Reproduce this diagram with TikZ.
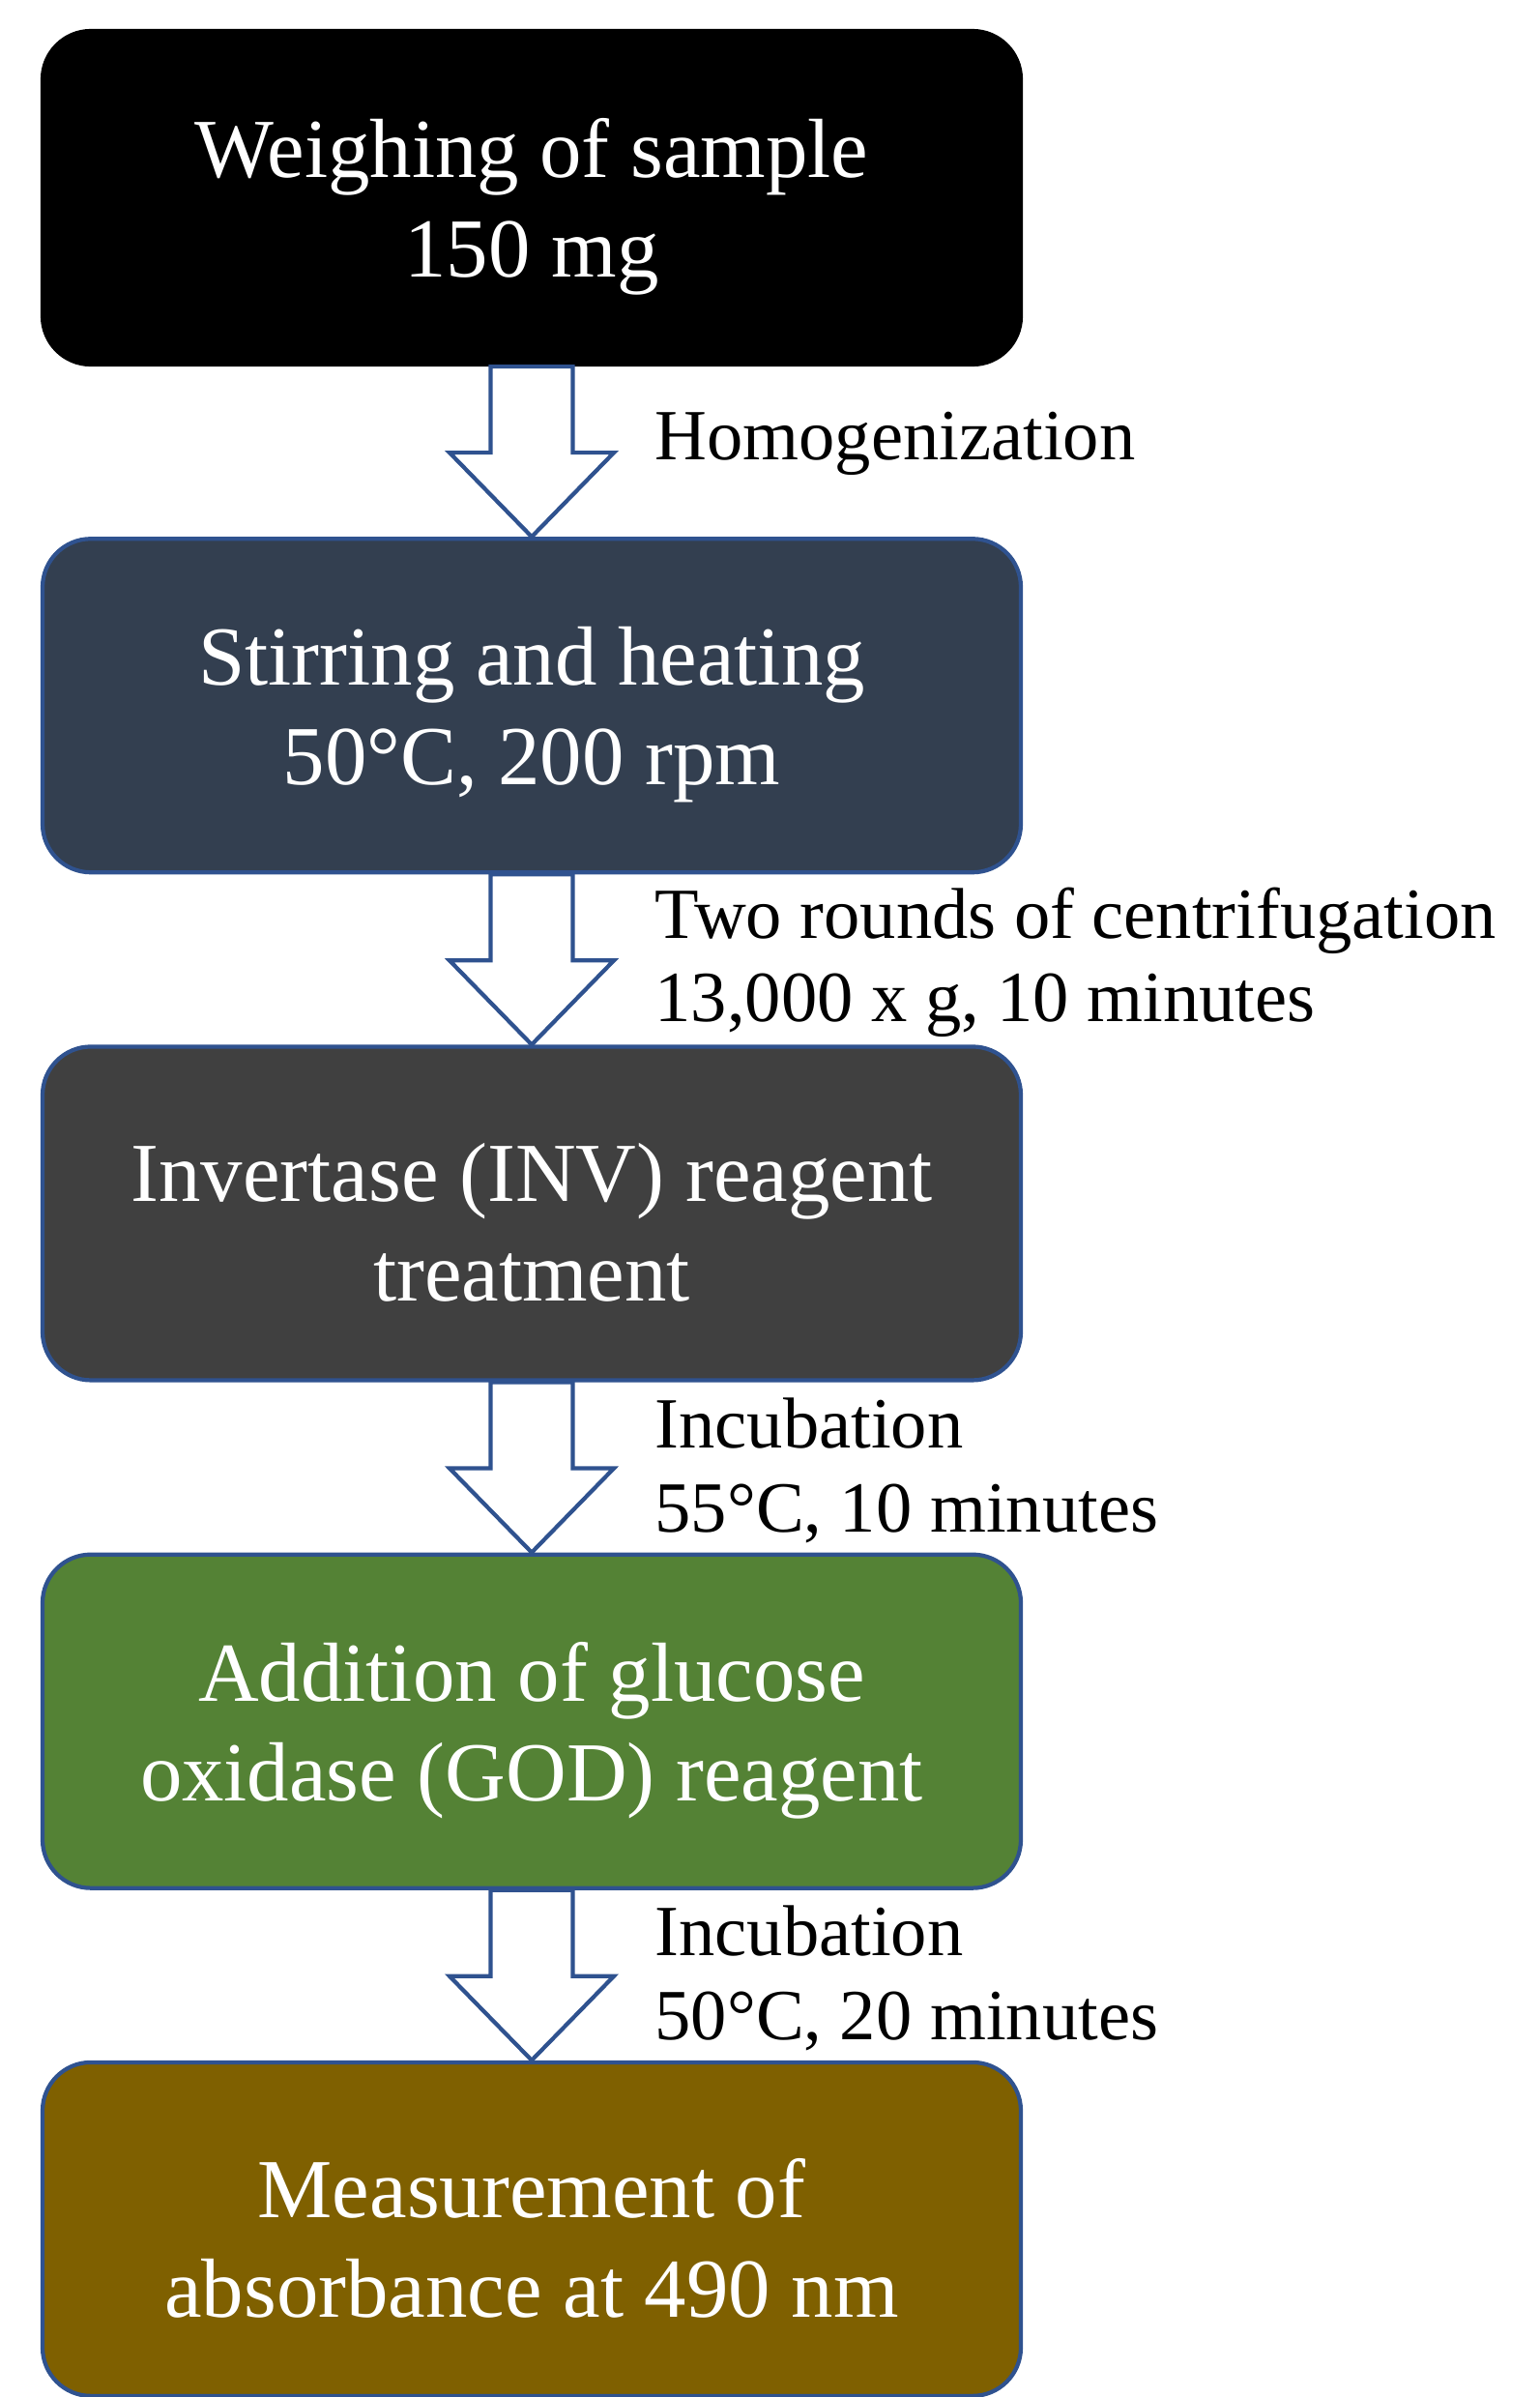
\documentclass[tikz,border=0pt]{standalone}
\usepackage{fontspec}
\setmainfont{Liberation Serif}
\usetikzlibrary{positioning,calc}

\definecolor{boxline}{HTML}{2F528F}
\definecolor{slate}{HTML}{333F50}
\definecolor{darkgrey}{HTML}{404040}
\definecolor{leaf}{HTML}{548235}
\definecolor{ochre}{HTML}{7F6000}

\tikzset{
  stepbox/.style={rectangle, rounded corners=0.5cm, draw=boxline, line width=1.2pt,
    minimum width=10.12cm, minimum height=3.45cm, inner sep=0pt,
    text=white, align=center, font=\fontsize{24.7}{29.3}\selectfont},
  note/.style={anchor=west, align=left, inner sep=0pt, font=\fontsize{21.2}{24.7}\selectfont},
  hollow/.style={draw=boxline, line width=1.2pt, fill=white, line join=miter}
}
% strut that lowers the two lines of a box a little
\newcommand{\topstrut}{\rule{0pt}{22.6pt}}

% hollow block arrow from the bottom of one box to the top of the next
\newcommand{\flowarrow}[2]{%
  \draw[hollow] ($(#1.south)+(-0.425,0)$) -- ($(#2.north)+(-0.425,0.87)$)
    -- ($(#2.north)+(-0.85,0.87)$) -- (#2.north) -- ($(#2.north)+(0.85,0.87)$)
    -- ($(#2.north)+(0.425,0.87)$) -- ($(#1.south)+(0.425,0)$) -- cycle;}

\begin{document}
\begin{tikzpicture}
    \useasboundingbox (0,0) rectangle (15.92,-24.79);
    %boxes
    \node[stepbox, fill=black, draw=black] (weigh) at (5.50,-2.045) {\topstrut Weighing of sample\\150 mg};
    \node[stepbox, fill=slate, below=1.76cm of weigh] (stir) {\topstrut Stirring and heating\\50°C, 200 rpm};
    \node[stepbox, fill=darkgrey, below=1.76cm of stir] (inv) {\topstrut Invertase (INV) reagent\\treatment};
    \node[stepbox, fill=leaf, below=1.76cm of inv] (god) {\topstrut Addition of glucose\\oxidase (GOD) reagent};
    \node[stepbox, fill=ochre, below=1.76cm of god] (meas) {\topstrut Measurement of\\absorbance at 490 nm};

    %arrows
    \flowarrow{weigh}{stir}
    \flowarrow{stir}{inv}
    \flowarrow{inv}{god}
    \flowarrow{god}{meas}

    %labels
    \node[note] (hom) at ($(weigh.south)!0.5!(stir.north)+(1.27,0.08)$) {Homogenization};
    \node[note] (cent) at ($(stir.south)!0.5!(inv.north)+(1.27,-0.03)$) {Two rounds of centrifugation\\13,000 x g, 10 minutes};
    \node[note] (inc1) at ($(inv.south)!0.5!(god.north)+(1.27,-0.03)$) {Incubation\\55°C, 10 minutes};
    \node[note] (inc2) at ($(god.south)!0.5!(meas.north)+(1.27,-0.03)$) {Incubation\\50°C, 20 minutes};
\end{tikzpicture}
\end{document}
